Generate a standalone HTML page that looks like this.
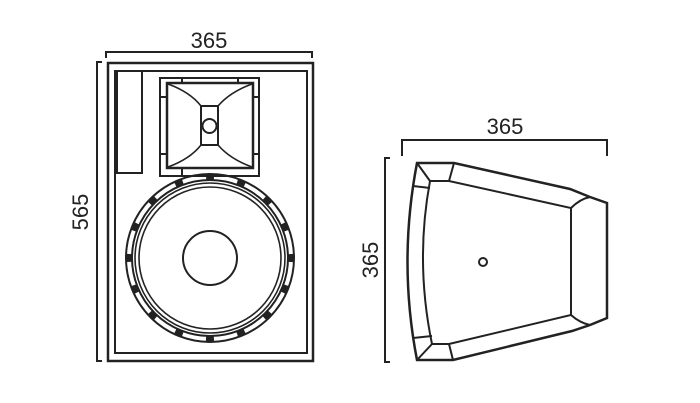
<!DOCTYPE html>
<html><head><style>body{margin:0;background:#fff}svg{display:block}text{font-family:"Liberation Sans",Arial,sans-serif;font-size:22px;fill:#222}</style></head>
<body>
<svg width="700" height="403" viewBox="0 0 700 403" xmlns="http://www.w3.org/2000/svg" fill="none" stroke="#222" stroke-width="2">
<!-- front dims -->
<polyline points="106,58 106,52 312,52 312,58"/>
<text x="209" y="48" text-anchor="middle" stroke="none">365</text>
<polyline points="102,62 97,62 97,361 102,361"/>
<text x="0" y="0" stroke="none" transform="translate(88,212) rotate(-90)" text-anchor="middle">565</text>
<!-- cabinet -->
<rect x="108" y="63" width="205" height="298" stroke-width="2.5"/>
<rect x="115" y="71" width="192" height="282"/>
<rect x="117" y="71" width="25" height="102"/>
<!-- horn -->
<rect x="160" y="78" width="99" height="98"/>
<rect x="167" y="83" width="86" height="85" stroke-width="2.5"/>
<line x1="182" y1="78" x2="182" y2="83"/><line x1="238" y1="78" x2="238" y2="83"/>
<line x1="182" y1="168" x2="182" y2="176"/>
<line x1="160" y1="97" x2="167" y2="97"/><line x1="160" y1="154" x2="167" y2="154"/>
<line x1="253" y1="97" x2="259" y2="97"/><line x1="253" y1="154" x2="259" y2="154"/>
<rect x="201" y="106" width="17" height="39"/>
<circle cx="209.5" cy="126" r="7"/>
<path d="M168,84 Q190,92 201,106 M252,84 Q230,92 218,106 M168,167 Q190,159 201,145 M252,167 Q230,159 218,145" stroke-width="1.6"/>
<!-- woofer -->
<circle cx="210" cy="258" r="84"/>
<circle cx="210" cy="258" r="78"/>
<circle cx="210" cy="258" r="81" stroke-width="6" stroke-dasharray="8 23.8" stroke-dashoffset="4" transform="rotate(-90 210 258)"/>
<circle cx="210" cy="258" r="75" stroke-width="1.6"/>
<circle cx="210" cy="258" r="71" stroke-width="1.6"/>
<circle cx="210" cy="258" r="27"/>
<!-- side dims -->
<polyline points="402,156 402,140 607,140 607,156"/>
<text x="505" y="134" text-anchor="middle" stroke="none">365</text>
<polyline points="390,158 385,158 385,362 390,362"/>
<text x="0" y="0" stroke="none" transform="translate(378,260) rotate(-90)" text-anchor="middle">365</text>
<!-- side shape -->
<path d="M417,163 L454,163 L570,189 L590,197 L607,203 L607,318 L590,325 L572,331 L453,360 L417,360 Q398,262 417,163 Z" stroke-width="2.5"/>
<path d="M430,181 L449,181 L571,208 L571,315 L449,344 L432,344 Q415,262 430,181 Z" stroke-width="2"/>
<path d="M417,163 L430,181 M454,163 L449,181 M413,186 L430,188 M417,360 L432,344 M453,360 L449,344 M413,338 L432,336"/>
<path d="M571,208 Q580,199 590,197 M571,315 Q580,323 590,325"/>
<circle cx="483" cy="262" r="4"/>
</svg>
</body></html>
